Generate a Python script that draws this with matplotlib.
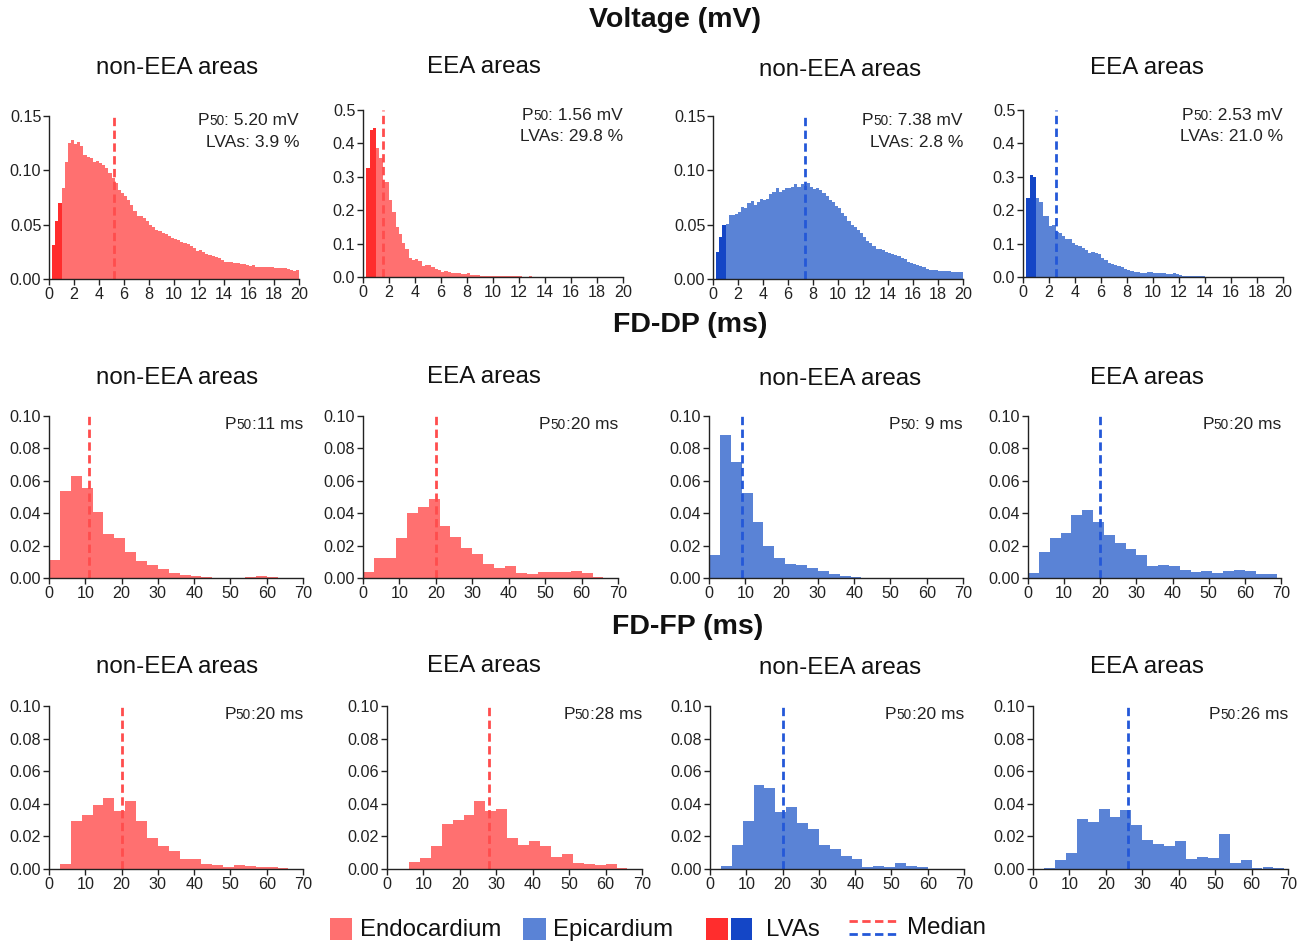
import numpy as np
import matplotlib
matplotlib.use("Agg")
import matplotlib.pyplot as plt
from matplotlib.patches import Rectangle
from matplotlib.lines import Line2D

plt.rcParams['font.family'] = ['Liberation Sans', 'DejaVu Sans']

# ---- data (densities) ----
# voltage histograms: bins of 0.25 mV from 0.25 to 20 mV
volt_bin = 0.25
volt_start = 0.25
lva_limit = 1.0

volt_endo_non = [
    0.031, 0.053, 0.070,
    0.084, 0.108, 0.125, 0.128, 0.124, 0.126, 0.122, 0.114,
    0.112, 0.111, 0.108, 0.109, 0.107, 0.105, 0.102, 0.098,
    0.093, 0.088, 0.082, 0.079, 0.076, 0.073, 0.068, 0.063,
    0.058, 0.058, 0.056, 0.053, 0.050, 0.048, 0.045, 0.044,
    0.042, 0.041, 0.040, 0.038, 0.037, 0.036, 0.0345, 0.0335,
    0.032, 0.030, 0.0285, 0.0255, 0.027, 0.0245, 0.023, 0.022,
    0.0215, 0.0205, 0.0195, 0.0177, 0.016, 0.0155, 0.0155, 0.015,
    0.0143, 0.0135, 0.0135, 0.0125, 0.012, 0.0128, 0.0115, 0.0115,
    0.0115, 0.011, 0.011, 0.011, 0.010, 0.0098, 0.0098, 0.0098,
    0.009, 0.0085, 0.0075, 0.008]
volt_endo_eea = [
    0.325, 0.44, 0.445,
    0.387, 0.356, 0.283, 0.283, 0.23, 0.195, 0.15, 0.13,
    0.103, 0.083, 0.057, 0.05, 0.054, 0.047, 0.034, 0.035,
    0.036, 0.029, 0.025, 0.02, 0.015, 0.017, 0.014, 0.012,
    0.013, 0.013, 0.01, 0.01, 0.011, 0.007, 0.006, 0.005,
    0.004, 0.004, 0.003, 0.003, 0.003, 0.0025, 0.002, 0.002,
    0.002, 0.0015, 0.0015, 0.0015, 0.0015, 0.001, 0.001, 0.0015,
    0.001, 0.001, 0.0008, 0.0008, 0.0006, 0.0006, 0.0005, 0.0005,
    0.0005, 0.0004, 0.0004, 0.0004, 0.0003, 0.0003, 0.0003, 0.0003,
    0.0003, 0.0002, 0.0002, 0.0002, 0.0002, 0.0002, 0.0002, 0.0002,
    0.0002, 0.0001, 0.0001, 0.0001]
volt_epi_non = [
    0.025, 0.039, 0.050,
    0.051, 0.059, 0.059, 0.060, 0.062, 0.066, 0.065, 0.070,
    0.072, 0.068, 0.071, 0.074, 0.073, 0.074, 0.078, 0.080,
    0.084, 0.080, 0.082, 0.084, 0.084, 0.085, 0.087, 0.085,
    0.087, 0.086, 0.088, 0.085, 0.083, 0.084, 0.082, 0.079,
    0.076, 0.073, 0.071, 0.067, 0.065, 0.061, 0.058, 0.053,
    0.050, 0.048, 0.045, 0.042, 0.039, 0.035, 0.033, 0.030,
    0.028, 0.028, 0.027, 0.025, 0.024, 0.023, 0.022, 0.021,
    0.019, 0.018, 0.016, 0.015, 0.014, 0.013, 0.012, 0.011,
    0.0095, 0.0085, 0.0085, 0.008, 0.0077, 0.0073, 0.007, 0.007,
    0.0068, 0.0065, 0.006, 0.006]
volt_epi_eea = [
    0.238, 0.306, 0.298,
    0.238, 0.226, 0.183, 0.183, 0.153, 0.156, 0.136, 0.133,
    0.122, 0.114, 0.114, 0.102, 0.097, 0.092, 0.087, 0.082,
    0.072, 0.075, 0.072, 0.069, 0.057, 0.052, 0.042, 0.040,
    0.037, 0.034, 0.029, 0.025, 0.022, 0.017, 0.016, 0.015,
    0.013, 0.012, 0.014, 0.014, 0.013, 0.011, 0.011, 0.012,
    0.009, 0.010, 0.012, 0.008, 0.005, 0.004, 0.003, 0.003,
    0.002, 0.002, 0.0015, 0.0015, 0.001, 0.001, 0.001, 0.0008,
    0.0008, 0.0007, 0.0006, 0.0006, 0.0005, 0.0005, 0.0005, 0.0004,
    0.0004, 0.0004, 0.0003, 0.0003, 0.0003, 0.0003, 0.0003, 0.0002,
    0.0002, 0.0002, 0.0002, 0.0002]

# FD-DP / FD-FP histograms: bins of 3 ms starting at 0
ms_bin = 3
dp_endo_non = [0.011, 0.054, 0.063, 0.0555, 0.041, 0.027, 0.0245, 0.016, 0.0102, 0.008, 0.0058,
               0.003, 0.0016, 0.0014, 0.0005, 0.0003, 0.0003, 0.0003, 0.0005, 0.001, 0.0005]
dp_endo_eea = [0.004, 0.0123, 0.0125, 0.0244, 0.0404, 0.044, 0.0486, 0.0318, 0.0256, 0.0184, 0.0148,
               0.0088, 0.006, 0.0074, 0.003, 0.0023, 0.0039, 0.0035, 0.0035, 0.0043, 0.0031, 0.0006]
dp_epi_non = [0.0141, 0.088, 0.0713, 0.0527, 0.0344, 0.0195, 0.0121, 0.0086, 0.0078, 0.006, 0.0045,
              0.0025, 0.0014, 0.0008, 0.0002]
dp_epi_eea = [0.0033, 0.016, 0.0246, 0.0275, 0.0387, 0.042, 0.0348, 0.0266, 0.0219, 0.0178, 0.0139,
              0.0076, 0.0078, 0.0074, 0.0047, 0.0039, 0.0041, 0.0029, 0.0043, 0.0051, 0.0043, 0.0027, 0.0023]

fp_endo_non = [0, 0.0033, 0.0297, 0.033, 0.039, 0.0436, 0.0354, 0.0417, 0.0292, 0.0192, 0.0139,
               0.0108, 0.0061, 0.0059, 0.0033, 0.0027, 0.0014, 0.0025, 0.0018, 0.0014, 0.001, 0.0006]
fp_endo_eea = [0, 0, 0.0041, 0.007, 0.0143, 0.0278, 0.030, 0.0333, 0.0419, 0.0354, 0.0366,
               0.0192, 0.0149, 0.0172, 0.0139, 0.0074, 0.0092, 0.0037, 0.0029, 0.0022, 0.0029, 0.0008]
fp_epi_non = [0, 0.002, 0.0147, 0.0292, 0.0515, 0.0497, 0.0352, 0.0382, 0.0282, 0.0243, 0.0145,
              0.0125, 0.008, 0.0061, 0.0012, 0.0018, 0.001, 0.0035, 0.0016, 0.001]
fp_epi_eea = [0, 0.0008, 0.0055, 0.01, 0.0307, 0.0286, 0.0368, 0.0317, 0.0364, 0.0268, 0.0178,
              0.0151, 0.0143, 0.0174, 0.0063, 0.0072, 0.0065, 0.0213, 0.0035, 0.0053, 0.0006, 0.001, 0.0008]

volt_median = [5.20, 1.56, 7.38, 2.53]
volt_lvas = [3.9, 29.8, 2.8, 21.0]
dp_median = [11, 20, 9, 20]
fp_median = [20, 28, 20, 26]

row_titles = ["Voltage (mV)", "FD-DP (ms)", "FD-FP (ms)"]
col_titles = ["non-EEA areas", "EEA areas", "non-EEA areas", "EEA areas"]

# ---- styling ----
W, H = 1304, 943
ENDO, ENDO_LVA, ENDO_MED = "#ff7070", "#ff2d2d", "#ff4d4d"
EPI, EPI_LVA, EPI_MED = "#5a83d6", "#1446c6", "#2458d8"
col_colors = [(ENDO, ENDO_LVA, ENDO_MED), (ENDO, ENDO_LVA, ENDO_MED),
              (EPI, EPI_LVA, EPI_MED), (EPI, EPI_LVA, EPI_MED)]

# axes boxes in pixels: left, top, right, bottom
boxes = [
    [(49, 116, 299, 279), (363, 110, 623, 277), (713, 116, 963, 279), (1023, 110, 1283, 277)],
    [(49, 416, 303, 578), (363, 416, 618, 578), (709, 416, 963, 578), (1028, 416, 1281, 578)],
    [(49, 706, 303, 869), (387, 706, 642, 869), (710, 706, 964, 869), (1033, 706, 1288, 869)],
]
row_title_pos = [(675, 20), (690, 325), (688, 627)]
col_title_x = [177, 484, 840, 1147]
col_title_y = [[68, 67, 70, 68], [378, 377, 379, 378], [667, 666, 668, 667]]

fig = plt.figure(figsize=(W / 100, H / 100), dpi=100)


def make_ax(box):
    l, t, r, b = box
    ax = fig.add_axes([l / W, 1 - b / H, (r - l) / W, (b - t) / H])
    for s in ("top", "right"):
        ax.spines[s].set_visible(False)
    for s in ("left", "bottom"):
        ax.spines[s].set_color("#222222")
        ax.spines[s].set_linewidth(1.0)
    ax.tick_params(labelsize=11.6, length=4, width=1, pad=1.5, colors="#222222")
    return ax


def p50_label(ax, y, value_text, size=12.5):
    t1 = ax.text(1.0, y, value_text, transform=ax.transAxes, ha="right", va="center",
                 fontsize=size, color="#222222")
    t2 = ax.annotate("50", xy=(0, 0), xycoords=t1, ha="right", va="bottom",
                     fontsize=size * 0.78, color="#222222")
    ax.annotate("P", xy=(0, 0), xycoords=t2, ha="right", va="bottom",
                fontsize=size, color="#222222")


# voltage row
volt_data = [volt_endo_non, volt_endo_eea, volt_epi_non, volt_epi_eea]
volt_ymax = [0.15, 0.5, 0.15, 0.5]
for c in range(4):
    ax = make_ax(boxes[0][c])
    light, dark, med = col_colors[c]
    heights = np.array(volt_data[c])
    lefts = volt_start + volt_bin * np.arange(len(heights))
    colors = [dark if x < lva_limit - 1e-9 else light for x in lefts]
    ax.bar(lefts, heights, width=volt_bin, align="edge", color=colors, linewidth=0)
    ax.axvline(volt_median[c], color=med, lw=2, ls=(0, (3, 1.6)))
    ax.set_xlim(0, 20)
    ax.set_ylim(0, volt_ymax[c])
    ax.set_xticks(np.arange(0, 21, 2))
    if volt_ymax[c] < 0.2:
        ax.set_yticks([0, 0.05, 0.10, 0.15])
        ax.set_yticklabels(["0.00", "0.05", "0.10", "0.15"])
    else:
        ax.set_yticks(np.arange(0, 0.51, 0.1))
        ax.set_yticklabels(["0.0", "0.1", "0.2", "0.3", "0.4", "0.5"])
    p50_label(ax, 0.97, f": {volt_median[c]:.2f} mV")
    ax.text(1.0, 0.84, f"LVAs: {volt_lvas[c]:.1f} %", transform=ax.transAxes,
            ha="right", va="center", fontsize=12.5, color="#222222")

# FD rows
ms_rows = [([dp_endo_non, dp_endo_eea, dp_epi_non, dp_epi_eea], dp_median),
           ([fp_endo_non, fp_endo_eea, fp_epi_non, fp_epi_eea], fp_median)]
for r, (datas, medians) in enumerate(ms_rows, start=1):
    for c in range(4):
        ax = make_ax(boxes[r][c])
        light, dark, med = col_colors[c]
        heights = np.array(datas[c])
        lefts = ms_bin * np.arange(len(heights))
        ax.bar(lefts, heights, width=ms_bin, align="edge", color=light, linewidth=0)
        ax.axvline(medians[c], color=med, lw=2, ls=(0, (3, 1.6)))
        ax.set_xlim(0, 70)
        ax.set_ylim(0, 0.10)
        ax.set_xticks(np.arange(0, 71, 10))
        ax.set_yticks(np.arange(0, 0.101, 0.02))
        ax.set_yticklabels(["0.00", "0.02", "0.04", "0.06", "0.08", "0.10"])
        sep = ": " if medians[c] < 10 else ":"
        p50_label(ax, 0.95, f"{sep}{medians[c]} ms")

# titles
for (x, y), t in zip(row_title_pos, row_titles):
    fig.text(x / W, 1 - y / H, t, ha="center", va="center", fontsize=20.5,
             fontweight="bold", color="#111111")
for r in range(3):
    for c in range(4):
        fig.text(col_title_x[c] / W, 1 - col_title_y[r][c] / H, col_titles[c],
                 ha="center", va="center", fontsize=17.4, color="#111111")

# legend (drawn in figure pixels)
def fig_rect(x0, y0, x1, y1, color):
    fig.patches.append(Rectangle((x0 / W, 1 - y1 / H), (x1 - x0) / W, (y1 - y0) / H,
                                 transform=fig.transFigure, color=color, lw=0))


def fig_label(x, y, s):
    fig.text(x / W, 1 - y / H, s, ha="left", va="center", fontsize=17.3, color="#111111")


fig_rect(330, 918, 352, 940, ENDO)
fig_label(360, 930, "Endocardium")
fig_rect(523, 918, 546, 940, EPI)
fig_label(553, 930, "Epicardium")
fig_rect(706, 918, 728, 940, ENDO_LVA)
fig_rect(731, 918, 752, 940, EPI_LVA)
fig_label(766, 930, "LVAs")
for yy, cc in ((921, ENDO_MED), (934, EPI_MED)):
    fig.lines.append(Line2D([849 / W, 898 / W], [1 - yy / H, 1 - yy / H], transform=fig.transFigure,
                            color=cc, lw=2, ls=(0, (3, 1.6))))
fig_label(907, 928, "Median")

fig.savefig("out.png", dpi=100)
